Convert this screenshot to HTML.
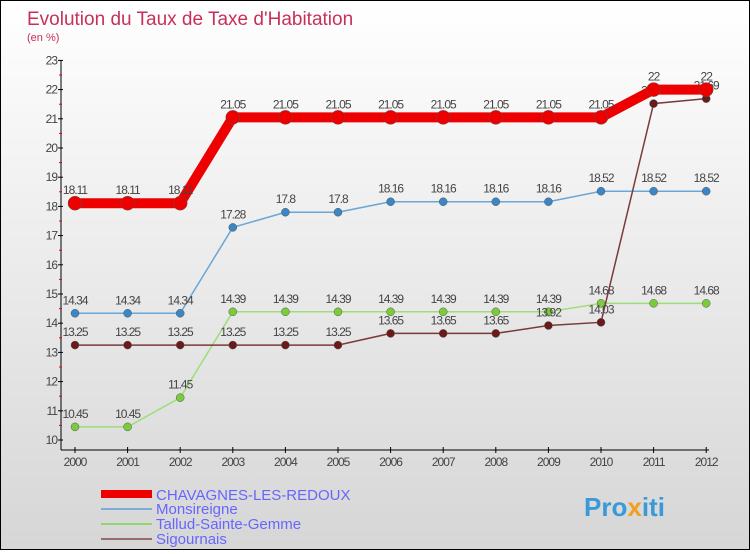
<!DOCTYPE html>
<html><head><meta charset="utf-8"><style>
body{margin:0;width:750px;height:550px;overflow:hidden}
#wrap{position:relative;width:748px;height:548px;border:1px solid #000;background:linear-gradient(#fff,#d6d6d6)}
text{font-family:"Liberation Sans",sans-serif}
</style></head><body>
<div id="wrap">
<svg id="svg" width="748" height="548" xmlns="http://www.w3.org/2000/svg">
<text x="26" y="24" font-size="19" fill="#c8305a">Evolution du Taux de Taxe d'Habitation</text>
<text x="26" y="40" font-size="11" fill="#c8305a">(en %)</text>
<g id="axes"></g><g id="series"></g>
<g>
<rect x="100" y="489" width="51" height="8" fill="#e00"/>
<text x="155" y="499" font-size="15" fill="#66f">CHAVAGNES-LES-REDOUX</text>
<line x1="100" y1="508" x2="151" y2="508" stroke="#7aaed6" stroke-width="2"/>
<text x="155" y="513" font-size="15" fill="#66f">Monsireigne</text>
<line x1="100" y1="523" x2="151" y2="523" stroke="#8ed870" stroke-width="2"/>
<text x="155" y="528" font-size="15" fill="#66f">Tallud-Sainte-Gemme</text>
<line x1="100" y1="538" x2="151" y2="538" stroke="#9a6a6a" stroke-width="2"/>
<text x="155" y="543" font-size="15" fill="#66f">Sigournais</text>
</g>
<text x="583" y="515" font-size="26" font-weight="bold" fill="#3a9ad9">Pro<tspan fill="#f0a020">x</tspan>iti</text>
</svg></div>
<script>
const years=[2000,2001,2002,2003,2004,2005,2006,2007,2008,2009,2010,2011,2012];
const yTicks=[10,11,12,13,14,15,16,17,18,19,20,21,22,23];
const chavagnes=[18.11,18.11,18.11,21.05,21.05,21.05,21.05,21.05,21.05,21.05,21.05,22,22];
const monsireigne=[14.34,14.34,14.34,17.28,17.8,17.8,18.16,18.16,18.16,18.16,18.52,18.52,18.52];
const tallud=[10.45,10.45,11.45,14.39,14.39,14.39,14.39,14.39,14.39,14.39,14.68,14.68,14.68];
const sigournais=[13.25,13.25,13.25,13.25,13.25,13.25,13.65,13.65,13.65,13.92,14.03,21.52,21.69];
const NS="http://www.w3.org/2000/svg";
const X=i=>74+i*52.6, Y=v=>439-(v-10)*29.2;
function mk(t,a,p){const e=document.createElementNS(NS,t);for(const k in a)e.setAttribute(k,a[k]);p.appendChild(e);return e;}
const ax=document.getElementById('axes'), sg=document.getElementById('series');
let l=mk('line',{x1:60,y1:Y(23),x2:60,y2:449,stroke:'#000'},ax);


l=mk('line',{x1:60,y1:449,x2:708,y2:449,stroke:'#000'},ax);


yTicks.forEach(v=>{mk('line',{x1:57,x2:62,y1:Y(v),y2:Y(v),stroke:'#000'},ax);
 if(v<23)mk('line',{x1:58,x2:61,y1:Y(v+0.5),y2:Y(v+0.5),stroke:'#e00'},ax);
 const t=mk('text',{x:56,y:Y(v)+4,'font-size':12,fill:'#444','text-anchor':'end','letter-spacing':'-1'},ax);t.textContent=v;
 
 });
years.forEach((y,i)=>{mk('line',{x1:X(i),x2:X(i),y1:446,y2:452,stroke:'#000'},ax);
 const t=mk('text',{x:X(i),y:465,'font-size':12,fill:'#444','text-anchor':'middle','letter-spacing':'-1'},ax);t.textContent=y;
 
 });
function series(d,name,col,dot,w,r){const g=mk('g',{},sg);
 
 
 mk('polyline',{points:d.map((v,i)=>X(i)+','+Y(v)).join(' '),fill:'none',stroke:col,'stroke-width':w},g);
 d.forEach((v,i)=>{const c=mk('circle',{cx:X(i),cy:Y(v),r:r,fill:dot,stroke:'#555','stroke-width':0.5},g);
 
 
 const t=mk('text',{x:X(i),y:Y(v)-9,'font-size':12,fill:'#444','text-anchor':'middle','letter-spacing':'-1'},g);t.textContent=v;
 
 });}
series(monsireigne,'monsireigne','#6aa6d6','#3a86c6',1.5,4);
series(tallud,'tallud','#9ede7a','#7acc3a',1.5,4);
series(sigournais,'sigournais','#7a3a3a','#6a1a1a',1.5,4);
series(chavagnes,'chavagnes','#e00','#e00',10,7);
</script></body></html>
